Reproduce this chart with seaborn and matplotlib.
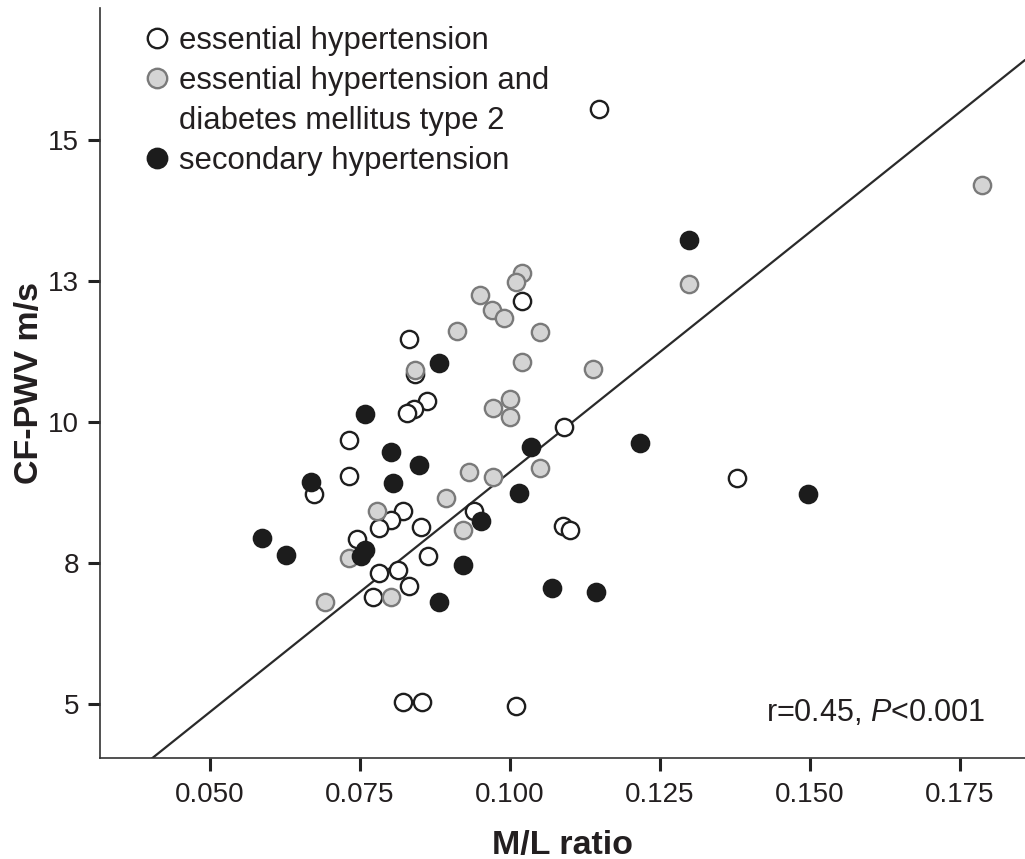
import matplotlib
matplotlib.use("Agg")
import matplotlib.pyplot as plt
from matplotlib.lines import Line2D
import numpy as np
import pandas as pd
import seaborn as sns

# ---- data ----
ess_x = [0.1148, 0.1020, 0.0831, 0.0842, 0.0861, 0.0840, 0.0829, 0.0732, 0.1090,
         0.0732, 0.0674, 0.1378, 0.0821, 0.0802, 0.0781, 0.0851, 0.0940, 0.0745,
         0.0864, 0.1089, 0.1100, 0.0781, 0.0813, 0.0832, 0.0771, 0.0822, 0.0853, 0.1010]
ess_y = [15.55, 12.15, 11.47, 10.85, 10.38, 10.23, 10.16, 9.68, 9.92,
         9.04, 8.73, 9.01, 8.43, 8.26, 8.12, 8.13, 8.42, 7.93,
         7.62, 8.16, 8.09, 7.32, 7.37, 7.10, 6.89, 5.04, 5.04, 4.97]

dm_x = [0.1020, 0.1010, 0.0950, 0.0970, 0.0990, 0.0912, 0.1050, 0.0842, 0.1020,
        0.1139, 0.1000, 0.0971, 0.1000, 0.0931, 0.0971, 0.1050, 0.0893, 0.0778,
        0.0922, 0.0731, 0.0802, 0.0692, 0.1298, 0.1787]
dm_y = [12.65, 12.49, 12.25, 11.99, 11.84, 11.62, 11.60, 10.92, 11.06,
        10.94, 10.41, 10.24, 10.09, 9.11, 9.03, 9.19, 8.66, 8.42,
        8.09, 7.59, 6.89, 6.80, 12.45, 14.20]

sec_x = [0.1298, 0.0881, 0.0758, 0.0802, 0.0849, 0.1035, 0.1217, 0.0668, 0.0805,
         0.1015, 0.1497, 0.0951, 0.0587, 0.0627, 0.0758, 0.0752, 0.0921, 0.0881,
         0.1070, 0.1143]
sec_y = [13.23, 11.04, 10.14, 9.47, 9.23, 9.55, 9.62, 8.94, 8.92,
         8.75, 8.72, 8.24, 7.94, 7.64, 7.73, 7.62, 7.47, 6.81,
         7.05, 6.99]

group_labels = ["essential hypertension",
                "essential hypertension and",
                "diabetes mellitus type 2",
                "secondary hypertension"]

line_slope = [85.1]
line_intercept = [0.604]

x_ticks = [0.050, 0.075, 0.100, 0.125, 0.150, 0.175]
x_ticklabels = ["0.050", "0.075", "0.100", "0.125", "0.150", "0.175"]
y_ticks = [5, 7.5, 10, 12.5, 15]
y_ticklabels = ["5", "8", "10", "13", "15"]

# ---- style ----
sns.set_style("ticks")
plt.rcParams["font.family"] = ["Liberation Sans", "DejaVu Sans"]
plt.rcParams["mathtext.fontset"] = "custom"
plt.rcParams["mathtext.rm"] = "Liberation Sans"
plt.rcParams["mathtext.it"] = "Liberation Sans:italic"
TXT = "#231f20"

fig = plt.figure(figsize=(10.25, 8.59), dpi=100)
L, R, B, T = 100, 1025, 758, 8
ax = fig.add_axes([L / 1025, 1 - B / 859, (R - L) / 1025, (B - T) / 859])

xlim = (0.050 + (L - 210) / 6000, 0.050 + (R - 210) / 6000)
ylim = (5 + (704 - B) / 56.4, 5 + (704 - T) / 56.4)

# regression line
xx = np.array(xlim)
ax.plot(xx, line_intercept[0] + line_slope[0] * xx, color="#2a2a2a", lw=1.6, zorder=1)

ms = 155
lw = 1.7
ess = pd.DataFrame({"x": ess_x, "y": ess_y})
dm = pd.DataFrame({"x": dm_x, "y": dm_y})
sec = pd.DataFrame({"x": sec_x, "y": sec_y})
sns.scatterplot(data=ess, x="x", y="y", ax=ax, s=ms, color="white",
                edgecolor="#1e1e1e", linewidth=lw, zorder=2)
sns.scatterplot(data=dm, x="x", y="y", ax=ax, s=ms, color="#d4d4d4",
                edgecolor="#7a7a7a", linewidth=lw, zorder=3)
sns.scatterplot(data=sec, x="x", y="y", ax=ax, s=ms, color="#1c1c1c",
                edgecolor="#1c1c1c", linewidth=lw, zorder=4)

ax.set_xlim(*xlim)
ax.set_ylim(*ylim)
ax.set_xticks(x_ticks)
ax.set_xticklabels(x_ticklabels)
ax.set_yticks(y_ticks)
ax.set_yticklabels(y_ticklabels)

for s in ["top", "right"]:
    ax.spines[s].set_visible(False)
for s in ["left", "bottom"]:
    ax.spines[s].set_linewidth(1.2)
    ax.spines[s].set_color("#333333")
ax.tick_params(axis="both", direction="out", length=9, width=2.2, color="#222222",
               labelsize=20, labelcolor=TXT)
ax.tick_params(axis="x", pad=8)
ax.tick_params(axis="y", pad=6)

ax.set_xlabel("M/L ratio", fontsize=24.5, fontweight="bold", color=TXT, labelpad=16)
ax.set_ylabel("CF-PWV m/s", fontsize=24.5, fontweight="bold", color=TXT, labelpad=2)

# legend
mk = 14
handles = [
    Line2D([], [], marker="o", ls="none", markersize=mk, markerfacecolor="white",
           markeredgecolor="#1e1e1e", markeredgewidth=lw),
    Line2D([], [], marker="o", ls="none", markersize=mk, markerfacecolor="#d4d4d4",
           markeredgecolor="#7a7a7a", markeredgewidth=lw),
    Line2D([], [], ls="none", marker=None),
    Line2D([], [], marker="o", ls="none", markersize=mk, markerfacecolor="#1c1c1c",
           markeredgecolor="#1c1c1c", markeredgewidth=lw),
]
leg = ax.legend(handles, group_labels, loc="upper left",
                bbox_to_anchor=(0.048, 0.976), frameon=False, fontsize=22.4,
                handlelength=0.8, handletextpad=0.31, labelspacing=0.32,
                borderpad=0, borderaxespad=0)
for t in leg.get_texts():
    t.set_color(TXT)

ax.text(0.957, 0.06, r"r=0.45, $\mathit{P}$<0.001", transform=ax.transAxes,
        ha="right", va="center", fontsize=22, color=TXT)

fig.savefig("out.png", dpi=100)
